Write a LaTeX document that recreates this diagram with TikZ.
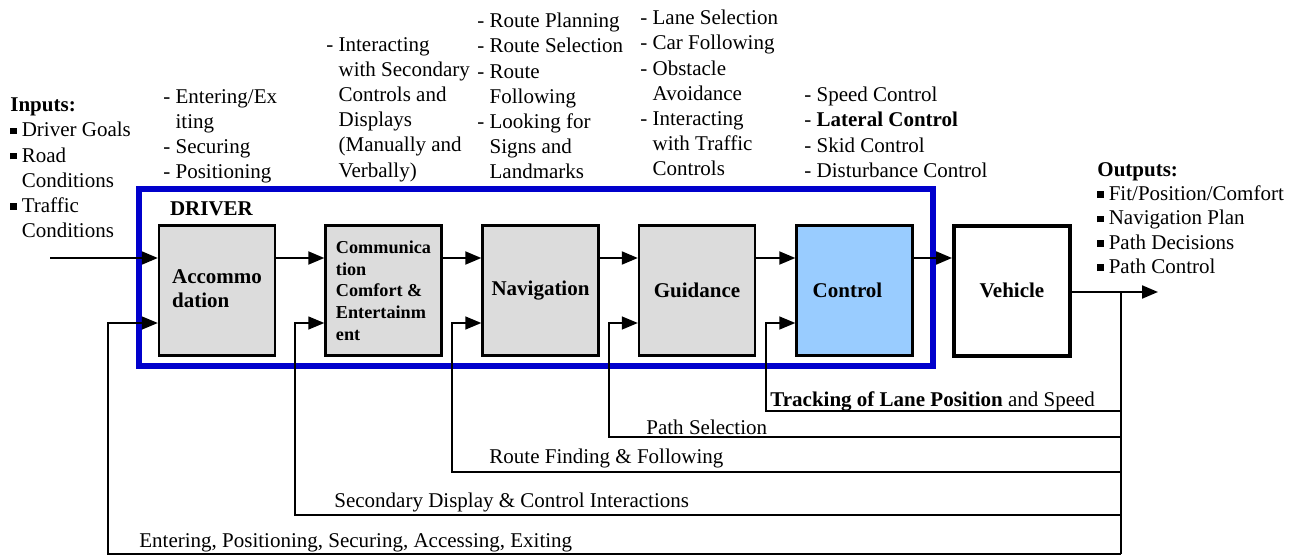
\documentclass[tikz,border=0pt]{standalone}
\usepackage{fontspec}
\setmainfont{Liberation Serif}
\usetikzlibrary{arrows.meta}
\definecolor{boxgray}{RGB}{220,220,220}
\definecolor{controlblue}{RGB}{153,204,255}
\definecolor{driverblue}{RGB}{0,0,204}
\newcommand{\sqbullet}{\rule[1.3pt]{3.3pt}{3.3pt}\hspace{2.4pt}}
\newcommand{\contline}{\hphantom{- }}
\begin{document}
\begin{tikzpicture}[x=0.5pt, y=-0.5pt,
                    every node/.style={inner sep=0pt, font=\fontsize{10.5}{12.6}\selectfont},
                    block/.style={draw, line width=1.2pt, fill=boxgray, minimum width=58pt, minimum height=65pt,
                                  align=left, font=\fontsize{10.5}{12.4}\selectfont\bfseries},
                    flow/.style={line width=1pt, -{Triangle[length=8pt, width=6.5pt]}},
                    feedback/.style={line width=0.7pt, -{Triangle[length=8pt, width=6.5pt]}},
                    notes/.style={anchor=north west, align=left}]
      \useasboundingbox (0,0) rectangle (1294,556);
      \coordinate (input_start) at (50,258);
      \coordinate (output_end) at (1158,292);
      \coordinate (tap) at (1121,292);
      \coordinate (loop_accommodation) at (108,554);
      \coordinate (loop_communication) at (295,515);
      \coordinate (loop_navigation) at (452,472);
      \coordinate (loop_guidance) at (609,437);
      \coordinate (loop_control) at (766,411);
      \draw[driverblue, line width=3pt] (139,189) rectangle (933,366);
      \node[font=\fontsize{10.5}{12.4}\selectfont\bfseries] (driver_label) at (211.5,209) {DRIVER};
      \node[block] (accommodation) at (217,290.5) {\raisebox{4pt}{\begin{tabular}{@{}l@{}}Accommo\\dation\end{tabular}}};
      \node[block, font=\fontsize{9.1}{10.85}\selectfont\bfseries] (communication) at (383.5,290.5) {Communica\\tion\\Comfort \&\\Entertainm\\ent};
      \node[block] (navigation) at (540.5,290.5) {Navigation};
      \node[block] (guidance) at (697,290.5) {Guidance};
      \node[block, fill=controlblue] (control) at (854.5,290.5) {Control\hspace{7pt}};
      \node[block, fill=white, line width=2pt] (vehicle) at (1012,290.5) {Vehicle};
      \node[notes] (inputs) at (10,93.6) {\strut\textbf{Inputs:}\\\sqbullet Driver Goals\\\sqbullet Road\\\hphantom{\sqbullet}Conditions\\\sqbullet Traffic\\\hphantom{\sqbullet}Conditions};
      \node[notes] (accommodation_tasks) at (163,85) {\strut- Entering/Ex\\\contline iting\\- Securing\\- Positioning};
      \node[notes] (communication_tasks) at (326,33) {\strut- Interacting\\\contline with Secondary\\\contline Controls and\\\contline Displays\\\contline (Manually and\\\contline Verbally)};
      \node[notes] (navigation_tasks) at (477,9.6) {\strut- Route Planning\\- Route Selection\\- Route\\\contline Following\\- Looking for\\\contline Signs and\\\contline Landmarks};
      \node[notes] (guidance_tasks) at (640,6.6) {\strut- Lane Selection\\- Car Following\\- Obstacle\\\contline Avoidance\\- Interacting\\\contline with Traffic\\\contline Controls};
      \node[notes] (control_tasks) at (804,83.6) {\strut- Speed Control\\- \textbf{Lateral Control}\\- Skid Control\\- Disturbance Control};
      \node[notes, font=\fontsize{10.5}{12.2}\selectfont] (outputs) at (1097,158.6) {\strut\textbf{Outputs:}\\\sqbullet Fit/Position/Comfort\\\sqbullet Navigation Plan\\\sqbullet Path Decisions\\\sqbullet Path Control};
      \draw[flow] (input_start) -- ([yshift=16.25pt]accommodation.west);
      \draw[flow] ([yshift=16.25pt]accommodation.east) -- ([yshift=16.25pt]communication.west);
      \draw[flow] ([yshift=16.25pt]communication.east) -- ([yshift=16.25pt]navigation.west);
      \draw[flow] ([yshift=16.25pt]navigation.east) -- ([yshift=16.25pt]guidance.west);
      \draw[flow] ([yshift=16.25pt]guidance.east) -- ([yshift=16.25pt]control.west);
      \draw[flow] ([yshift=16.25pt]control.east) -- ([yshift=16.25pt]vehicle.west);
      \draw[flow] (vehicle.east |- output_end) -- (output_end);
      \draw[line width=0.7pt] (tap) -- (tap |- loop_accommodation);
      \draw[feedback] (tap |- loop_accommodation) -- (loop_accommodation) |- ([yshift=-16.25pt]accommodation.west);
      \draw[feedback] (tap |- loop_communication) -- (loop_communication) |- ([yshift=-16.25pt]communication.west);
      \draw[feedback] (tap |- loop_navigation) -- (loop_navigation) |- ([yshift=-16.25pt]navigation.west);
      \draw[feedback] (tap |- loop_guidance) -- (loop_guidance) |- ([yshift=-16.25pt]guidance.west);
      \draw[feedback] (tap |- loop_control) -- (loop_control) |- ([yshift=-16.25pt]control.west);
      \node[anchor=base west] (tracking_label) at (770,406) {\textbf{Tracking of Lane Position} and Speed};
      \node[anchor=base west] (path_label) at (646,434) {Path Selection};
      \node[anchor=base west] (route_label) at (489,463) {Route Finding \& Following};
      \node[anchor=base west] (secondary_label) at (334,507) {Secondary Display \& Control Interactions};
      \node[anchor=base west] (entering_label) at (139,547) {Entering, Positioning, Securing, Accessing, Exiting};
    \end{tikzpicture}
\end{document}
